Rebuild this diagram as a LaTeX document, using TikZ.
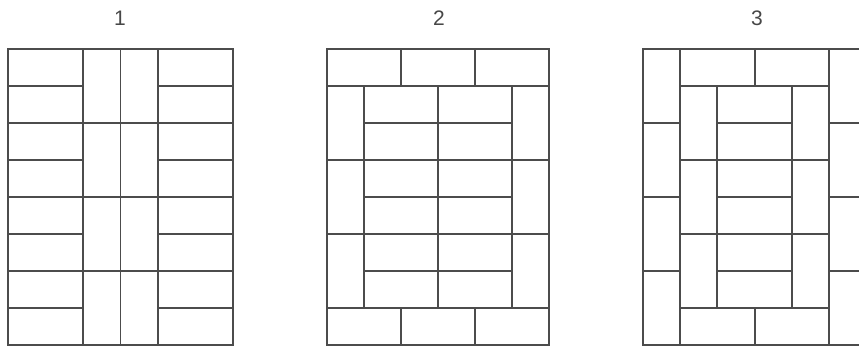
\documentclass[tikz,border=0pt]{standalone}
\usepackage{fontspec}
\setmainfont{Liberation Sans}
\begin{document}
\begin{tikzpicture}[x=1pt,y=-1pt,
  brick/.style={draw=black!70, line width=1.9pt, line join=miter},
  lbl/.style={text=black!72, font=\fontsize{21}{21}\selectfont, inner sep=0pt}]
\useasboundingbox (0,0) rectangle (859,347);
\clip (0,0) rectangle (859,347);
% labels
\node[lbl] (l1) at (120,18) {1};
\node[lbl] (l2) at (439,18) {2};
\node[lbl] (l3) at (757,18) {3};
% panel 1
\begin{scope}[shift={(8,49)}, x=37.5pt, y=-37pt]
  \foreach \r in {0,...,7} {
    \draw[brick] (0,\r) rectangle (2,\r+1);
    \draw[brick] (4,\r) rectangle (6,\r+1);
  }
  \foreach \k in {0,2,4,6} {
    \draw[brick] (2,\k) rectangle (3,\k+2);
    \draw[brick] (3,\k) rectangle (4,\k+2);
  }
\end{scope}
% panel 2
\begin{scope}[shift={(327,49)}, x=37pt, y=-37pt]
  \foreach \c in {0,2,4} {
    \draw[brick] (\c,0) rectangle (\c+2,1);
    \draw[brick] (\c,7) rectangle (\c+2,8);
  }
  \foreach \k in {1,3,5} {
    \draw[brick] (0,\k) rectangle (1,\k+2);
    \draw[brick] (5,\k) rectangle (6,\k+2);
  }
  \foreach \r in {1,...,6} {
    \draw[brick] (1,\r) rectangle (3,\r+1);
    \draw[brick] (3,\r) rectangle (5,\r+1);
  }
\end{scope}
% panel 3
\begin{scope}[shift={(643,49)}, x=37.2pt, y=-37pt]
  \foreach \k in {0,2,4,6} {
    \draw[brick] (0,\k) rectangle (1,\k+2);
    \draw[brick] (5,\k) rectangle (6,\k+2);
  }
  \foreach \c in {1,3} {
    \draw[brick] (\c,0) rectangle (\c+2,1);
    \draw[brick] (\c,7) rectangle (\c+2,8);
  }
  \foreach \k in {1,3,5} {
    \draw[brick] (1,\k) rectangle (2,\k+2);
    \draw[brick] (4,\k) rectangle (5,\k+2);
  }
  \foreach \r in {1,...,6} {
    \draw[brick] (2,\r) rectangle (4,\r+1);
  }
\end{scope}
\end{tikzpicture}
\end{document}
